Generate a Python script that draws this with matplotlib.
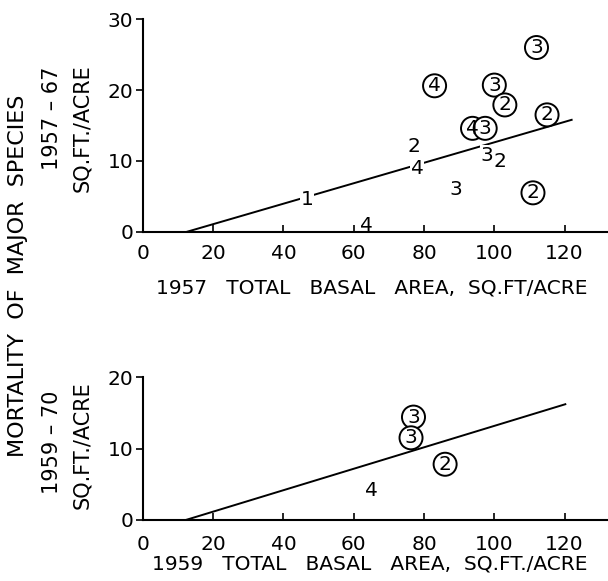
import numpy as np
import matplotlib
matplotlib.use('Agg')
import matplotlib.pyplot as plt

# 1957-67 panel
top_x = [112, 83, 100, 103, 115, 93.8, 97.4, 77, 78, 98, 101.5, 89, 46.7, 63.5, 111]
top_y = [26, 20.6, 20.7, 17.9, 16.5, 14.6, 14.6, 12.1, 9.0, 10.8, 9.9, 5.9, 4.5, 0.9, 5.5]
top_lab = ['3', '4', '3', '2', '2', '4', '3', '2', '4', '3', '2', '3', '1', '4', '2']
top_circ = [1, 1, 1, 1, 1, 1, 1, 0, 0, 0, 0, 0, 0, 0, 1]
top_online = [0, 0, 0, 0, 0, 0, 0, 0, 1, 1, 0, 0, 1, 0, 0]
top_line_x = [12.5, 122]
top_line_y = [0, 15.8]

# 1959-70 panel
bot_x = [77, 76.3, 86, 65]
bot_y = [14.4, 11.5, 7.8, 4.1]
bot_lab = ['3', '3', '2', '4']
bot_circ = [1, 1, 1, 0]
bot_online = [0, 0, 0, 0]
bot_line_x = [12.2, 120.2]
bot_line_y = [0, 16.2]

xticks = [0, 20, 40, 60, 80, 100, 120]

FS = 14.5

fig = plt.figure(figsize=(6.08, 5.81), dpi=100)
ax1 = fig.add_axes([0.235, 0.601, 0.763, 0.366])
ax2 = fig.add_axes([0.235, 0.105, 0.763, 0.246])


def setup(ax, xs, ys, labs, circ, online, lx, ly, ymax, yticks, xpad):
    ax.plot(lx, ly, 'k-', lw=1.4, zorder=2)
    for x, y, t, c, o in zip(xs, ys, labs, circ, online):
        if c:
            # circle drawn first, digit on top so overlapping circles keep both digits
            ax.text(x, y, t, ha='center', va='center', fontsize=FS, color='none', zorder=4,
                    bbox=dict(boxstyle='circle,pad=0.1', fc='white', ec='k', lw=1.4))
            ax.text(x, y, t, ha='center', va='center', fontsize=FS, zorder=6)
        elif o:
            ax.text(x, y, t, ha='center', va='center', fontsize=FS, zorder=6,
                    bbox=dict(boxstyle='square,pad=0.05', fc='white', ec='none'))
        else:
            ax.text(x, y, t, ha='center', va='center', fontsize=FS, zorder=6)
    ax.set_xlim(0, 132)
    ax.set_ylim(0, ymax)
    ax.spines['top'].set_visible(False)
    ax.spines['right'].set_visible(False)
    ax.spines['left'].set_linewidth(1.5)
    ax.spines['bottom'].set_linewidth(1.5)
    ax.set_xticks(xticks)
    ax.set_yticks(yticks)
    ax.tick_params(axis='x', direction='in', length=5, width=1.2, labelsize=FS, pad=xpad)
    ax.tick_params(axis='y', direction='out', length=5, width=1.2, labelsize=FS, pad=2)


setup(ax1, top_x, top_y, top_lab, top_circ, top_online, top_line_x, top_line_y,
      30, [0, 10, 20, 30], 9)
setup(ax2, bot_x, bot_y, bot_lab, bot_circ, bot_online, bot_line_x, bot_line_y,
      20, [0, 10, 20], 10.5)

fig.text(372 / 608, 1 - 288 / 581, '1957   TOTAL   BASAL   AREA,  SQ.FT/ACRE',
         ha='center', va='center', fontsize=FS)
fig.text(370 / 608, 1 - 564 / 581, '1959   TOTAL   BASAL   AREA,  SQ.FT./ACRE',
         ha='center', va='center', fontsize=FS)

fig.text(18 / 608, 1 - 276 / 581, 'MORTALITY  OF  MAJOR  SPECIES', rotation=90,
         ha='center', va='center', fontsize=16)
fig.text(52 / 608, 1 - 118 / 581, '1957 – 67', rotation=90, ha='center', va='center', fontsize=15)
fig.text(82 / 608, 1 - 128 / 581, 'SQ.FT./ACRE', rotation=90, ha='center', va='center', fontsize=15)
fig.text(52 / 608, 1 - 442 / 581, '1959 – 70', rotation=90, ha='center', va='center', fontsize=15)
fig.text(82 / 608, 1 - 445 / 581, 'SQ.FT./ACRE', rotation=90, ha='center', va='center', fontsize=15)

plt.savefig('out.png', dpi=100)
